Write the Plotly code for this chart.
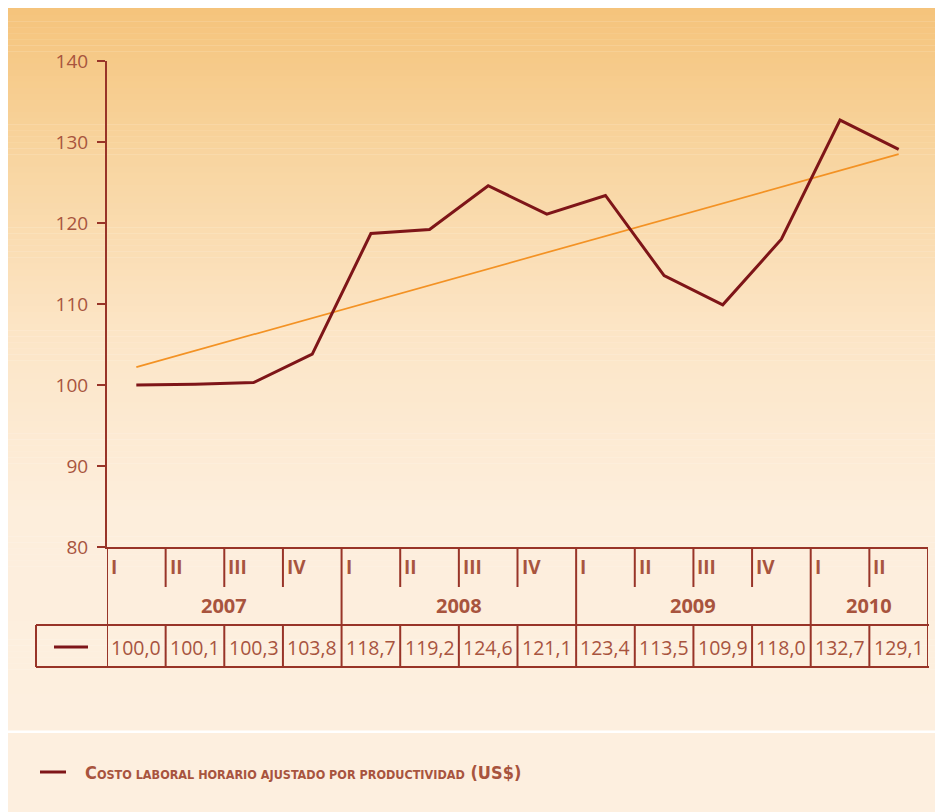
import plotly.graph_objects as go

# ---------------- data ----------------
quarters = ["I", "II", "III", "IV", "I", "II", "III", "IV", "I", "II", "III", "IV", "I", "II"]
years = ["2007", "2008", "2009", "2010"]
year_quarters = [4, 4, 4, 2]
values = [100.0, 100.1, 100.3, 103.8, 118.7, 119.2, 124.6, 121.1,
          123.4, 113.5, 109.9, 118.0, 132.7, 129.1]
trend_x = [0, 13]
trend_y = [102.2, 128.5]
y_ticks = [80, 90, 100, 110, 120, 130, 140]
series_name = "Costo laboral horario ajustado por productividad (US$)"

# ---------------- style ----------------
W, H = 943, 812
OFF = 8  # page body margin compensation
AXIS = "#983428"
TEXT = "#A8543E"
MAIN = "#7E1518"
TREND = "#F39224"
FONT = "Open Sans"
LEGFONT = "DejaVu Sans Condensed, Liberation Sans Narrow, Open Sans"

def py(y):
    return 1 - (y - OFF) / H

def px(x):
    return (x - OFF) / W

x_idx = list(range(len(values)))

fig = go.Figure()
fig.add_trace(go.Scatter(x=trend_x, y=trend_y, mode="lines",
                         line=dict(color=TREND, width=1.7), showlegend=False, hoverinfo="skip"))
fig.add_trace(go.Scatter(x=x_idx, y=values, mode="lines",
                         line=dict(color=MAIN, width=3), showlegend=False))

shapes = []
stops = [(0.0, (245, 195, 122)), (0.2, (248, 212, 158)), (0.45, (252, 229, 198)),
         (0.7, (253, 238, 220)), (1.0, (253, 239, 223))]

def interp(t):
    for (t0, c0), (t1, c1) in zip(stops[:-1], stops[1:]):
        if t0 <= t <= t1:
            f = (t - t0) / (t1 - t0) if t1 > t0 else 0
            return tuple(round(a + (b - a) * f) for a, b in zip(c0, c1))
    return stops[-1][1]

top, bot = 3, 730
n = 120
for i in range(n):
    y0 = top + (bot - top) * i / n
    y1 = top + (bot - top) * (i + 1) / n
    c = interp((i + 0.5) / n)
    shapes.append(dict(type="rect", xref="paper", yref="paper", layer="below",
                       x0=px(0), x1=px(940), y0=py(y1) - 0.0005, y1=py(min(y0, OFF) if i == 0 else y0),
                       fillcolor="rgb(%d,%d,%d)" % c, line=dict(width=0)))
shapes.append(dict(type="rect", xref="paper", yref="paper", layer="below",
                   x0=px(0), x1=px(940), y0=0, y1=py(733),
                   fillcolor="rgb(253,239,223)", line=dict(width=0)))

LW = 2
y_top, y_q, y_v, y_bot = 547, 587, 625, 667
year_bounds = []
acc = 0
for q in year_quarters[:-1]:
    acc += q
    year_bounds.append(acc)
for k in range(1, len(values)):
    xb = k - 0.5
    if k in year_bounds:
        shapes.append(dict(type="line", xref="x", yref="paper", x0=xb, x1=xb,
                           y0=py(y_top), y1=py(y_bot), line=dict(color=AXIS, width=LW)))
    else:
        shapes.append(dict(type="line", xref="x", yref="paper", x0=xb, x1=xb,
                           y0=py(y_top), y1=py(y_q), line=dict(color=AXIS, width=LW)))
        shapes.append(dict(type="line", xref="x", yref="paper", x0=xb, x1=xb,
                           y0=py(y_v), y1=py(y_bot), line=dict(color=AXIS, width=LW)))
for xb in [-0.5, len(values) - 0.5]:
    shapes.append(dict(type="line", xref="x", yref="paper", x0=xb, x1=xb,
                       y0=py(y_top), y1=py(y_bot), line=dict(color=AXIS, width=LW)))
shapes.append(dict(type="line", xref="paper", yref="paper", x0=px(36), x1=px(36),
                   y0=py(y_v), y1=py(y_bot), line=dict(color=AXIS, width=LW)))
for yy in [y_v, y_bot]:
    shapes.append(dict(type="line", xref="paper", yref="paper", x0=px(36), x1=px(929),
                       y0=py(yy), y1=py(yy), line=dict(color=AXIS, width=LW)))
shapes.append(dict(type="line", xref="paper", yref="paper", x0=px(54), x1=px(88),
                   y0=py(647), y1=py(647), line=dict(color=MAIN, width=3)))
shapes.append(dict(type="line", xref="paper", yref="paper", x0=px(40), x1=px(66),
                   y0=py(772), y1=py(772), line=dict(color=MAIN, width=3)))

annotations = []
for i, q in enumerate(quarters):
    annotations.append(dict(x=i - 0.5, xref="x", y=py(567), yref="paper", text="<b>%s</b>" % q,
                            showarrow=False, xanchor="left", yanchor="middle", xshift=2,
                            font=dict(family=FONT, size=19, color=TEXT)))
start = 0
for yr, q in zip(years, year_quarters):
    annotations.append(dict(x=start + (q - 1) / 2, xref="x", y=py(605), yref="paper",
                            text="<b>%s</b>" % yr, showarrow=False, xanchor="center", yanchor="middle",
                            font=dict(family=FONT, size=20, color=TEXT)))
    start += q
for i, v in enumerate(values):
    annotations.append(dict(x=i, xref="x", y=py(647), yref="paper",
                            text=("%.1f" % v).replace(".", ","), showarrow=False,
                            xanchor="center", yanchor="middle",
                            font=dict(family=FONT, size=19.5, color=TEXT)))

# legend text in small caps (first letter and "(US$)" full size)
head = series_name[0]
body, tail = series_name[1:].split(" (")
leg_text = ("<b>%s<span style='font-size:12.5px'>%s</span> (%s</b>"
            % (head, body.upper(), tail))
annotations.append(dict(x=px(83), xref="paper", y=py(772), yref="paper", text=leg_text,
                        showarrow=False, xanchor="left", yanchor="middle",
                        font=dict(family=LEGFONT, size=18, color=TEXT)))

fig.update_layout(
    width=W, height=H,
    autosize=False,
    margin=dict(l=0, r=0, t=0, b=0, pad=0),
    paper_bgcolor="white",
    plot_bgcolor="rgba(0,0,0,0)",
    showlegend=False,
    shapes=shapes,
    annotations=annotations,
    xaxis=dict(domain=[px(107), px(928)], range=[-0.5, len(values) - 0.5], automargin=False,
               showgrid=False, zeroline=False, showticklabels=False,
               showline=True, linecolor=AXIS, linewidth=LW),
    yaxis=dict(domain=[py(547), py(61)], range=[80, 140], tickvals=y_ticks, automargin=False,
               showgrid=False, zeroline=False, showline=True, linecolor=AXIS, linewidth=LW,
               ticks="outside", ticklen=8, tickwidth=LW, tickcolor=AXIS, ticklabelstandoff=5,
               tickfont=dict(family=FONT, size=19, color=TEXT)),
)

fig.write_html("out.html")
